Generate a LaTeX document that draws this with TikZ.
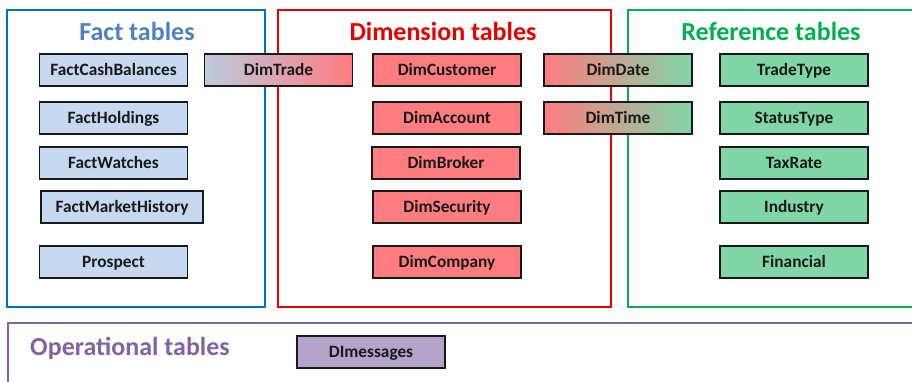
\documentclass[tikz,border=0pt]{standalone}
\usepackage{fontspec}
\setmainfont{Carlito}
\definecolor{factfill}{RGB}{198,217,240}
\definecolor{dimfill}{RGB}{255,124,128}
\definecolor{reffill}{RGB}{128,214,166}
\definecolor{opfill}{RGB}{180,164,204}
\definecolor{factframe}{RGB}{0,112,192}
\definecolor{facttitle}{RGB}{79,129,189}
\definecolor{dimframe}{RGB}{230,0,0}
\definecolor{refframe}{RGB}{0,176,80}
\definecolor{opframe}{RGB}{128,100,162}
\definecolor{edge}{RGB}{25,25,25}
\tikzset{
  tbl/.style={draw=edge, line width=1.4pt, minimum height=32pt, minimum width=148pt,
    inner sep=0pt, text height=12pt, text depth=1pt,
    font=\fontsize{17.3}{17.3}\selectfont\bfseries, text=black!90},
  facttbl/.style={tbl, fill=factfill},
  dimtbl/.style={tbl, fill=dimfill},
  reftbl/.style={tbl, fill=reffill},
  optbl/.style={tbl, fill=opfill},
  frame/.style={line width=2pt},
  grouptitle/.style={font=\fontsize{26}{26}\selectfont\bfseries, inner sep=0pt,
    text height=17pt, text depth=5pt},
}
\begin{document}
\begin{tikzpicture}[x=1pt, y=-1pt]
\useasboundingbox (0,0) rectangle (912,381);
\clip (0,0) rectangle (912,381);
\fill[white] (0,0) rectangle (912,381);

% group frames
\draw[frame, factframe] (7,10) rectangle (265,307);
\draw[frame, dimframe] (278,10) rectangle (611,307);
\draw[frame, refframe] (628,10) rectangle (930,307);
\draw[frame, opframe] (8,323) rectangle (930,400);

% group titles
\node[grouptitle, text=facttitle] (tfact) at (137,34) {Fact tables};
\node[grouptitle, text=dimframe] (tdim) at (443,34) {Dimension tables};
\node[grouptitle, text=refframe] (tref) at (771,34) {Reference tables};
\node[grouptitle, text=opframe] (top) at (130,349) {Operational tables};

% fact tables
\node[facttbl] (fcb) at (113.5,70) {FactCashBalances};
\node[facttbl] (fh) at (113.5,118) {FactHoldings};
\node[facttbl] (fw) at (113.5,163) {FactWatches};
\node[facttbl, minimum width=162pt] (fmh) at (122,207) {FactMarketHistory};
\node[facttbl] (pr) at (113.5,262) {Prospect};

% tables shared between groups
\node[tbl, left color=factfill!85!gray, right color=dimfill] (dtrade) at (278.5,70) {DimTrade};
\node[tbl, left color=dimfill, right color=reffill] (ddate) at (618,70) {DimDate};
\node[tbl, left color=dimfill, right color=reffill] (dtime) at (618,118) {DimTime};

% dimension tables
\node[dimtbl] (dcust) at (447,70) {DimCustomer};
\node[dimtbl] (dacc) at (447,118) {DimAccount};
\node[dimtbl] (dbrk) at (446,163) {DimBroker};
\node[dimtbl] (dsec) at (447,207) {DimSecurity};
\node[dimtbl] (dcomp) at (447,262) {DimCompany};

% reference tables
\node[reftbl] (tt) at (794,70) {TradeType};
\node[reftbl] (st) at (794,118) {StatusType};
\node[reftbl] (tr) at (794,163) {TaxRate};
\node[reftbl] (ind) at (794,207) {Industry};
\node[reftbl] (fin) at (794,262) {Financial};

% operational tables
\node[optbl] (msg) at (371,352) {DImessages};
\end{tikzpicture}
\end{document}
